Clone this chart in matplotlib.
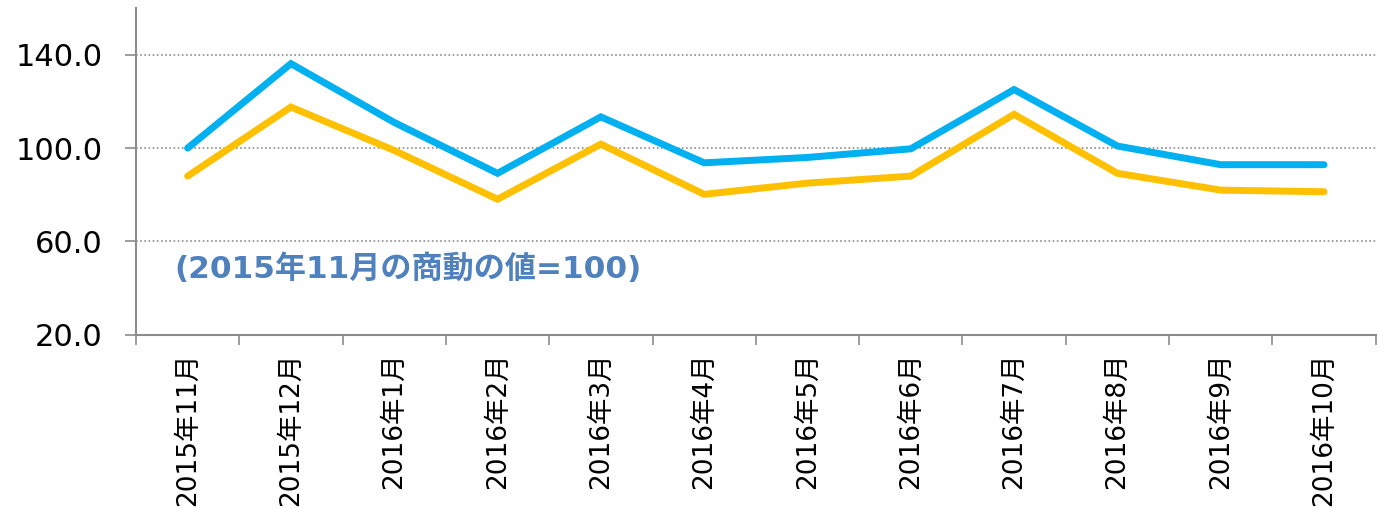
import numpy as np
import matplotlib
matplotlib.use("Agg")
import matplotlib.pyplot as plt
from matplotlib.ticker import FixedLocator

plt.rcParams['font.family'] = ['DejaVu Sans', 'Noto Sans CJK JP']

# data
months = ['2015年11月', '2015年12月', '2016年1月', '2016年2月', '2016年3月', '2016年4月',
          '2016年5月', '2016年6月', '2016年7月', '2016年8月', '2016年9月', '2016年10月']
blue_vals = [100.0, 136.2, 111.0, 89.2, 113.4, 93.7, 96.0, 99.7, 125.1, 100.9, 92.9, 92.9]
orange_vals = [88.0, 117.6, 99.0, 78.1, 101.7, 80.2, 85.0, 88.0, 114.5, 89.2, 82.0, 81.3]
y_ticks = [20, 60, 100, 140]
note = '(2015年11月の商動の値=100)'

fig = plt.figure(figsize=(13.79, 5.08), dpi=100)
ax = fig.add_axes([0.0986, 0.341, 0.899, 0.643])

x = np.arange(len(months))
ax.plot(x, blue_vals, color='#00B0F0', lw=5, solid_capstyle='round', solid_joinstyle='miter', zorder=3)
ax.plot(x, orange_vals, color='#FFC000', lw=5, solid_capstyle='round', solid_joinstyle='miter', zorder=3)

ax.set_xlim(-0.5, len(months) - 0.5)
ax.set_ylim(20, 160)

# y axis
ax.set_yticks(y_ticks)
ax.set_yticklabels([f'{v:.1f}' for v in y_ticks], fontsize=22)
ax.tick_params(axis='y', length=8, color='#8c8c8c', width=1.2, pad=16)
for v in y_ticks[1:]:
    ax.axhline(v, color='#8c8c8c', lw=1.2, ls=(0, (1, 1.5)), zorder=1)

# x axis: labels at centers, tick marks at boundaries
ax.set_xticks(x)
ax.set_xticklabels(months, rotation=90, fontsize=19)
ax.tick_params(axis='x', which='major', length=0, pad=13)
ax.xaxis.set_minor_locator(FixedLocator(np.arange(-0.5, len(months), 1.0)))
ax.tick_params(axis='x', which='minor', length=7, color='#8c8c8c', width=1.2)

for s in ['top', 'right']:
    ax.spines[s].set_visible(False)
for s in ['left', 'bottom']:
    ax.spines[s].set_color('#8c8c8c')
    ax.spines[s].set_linewidth(1.5)

ax.text(-0.13, 48.5, note, color='#4F81BD', fontsize=22.4, fontweight='bold', va='center', ha='left')

fig.savefig('out.png', dpi=100)
